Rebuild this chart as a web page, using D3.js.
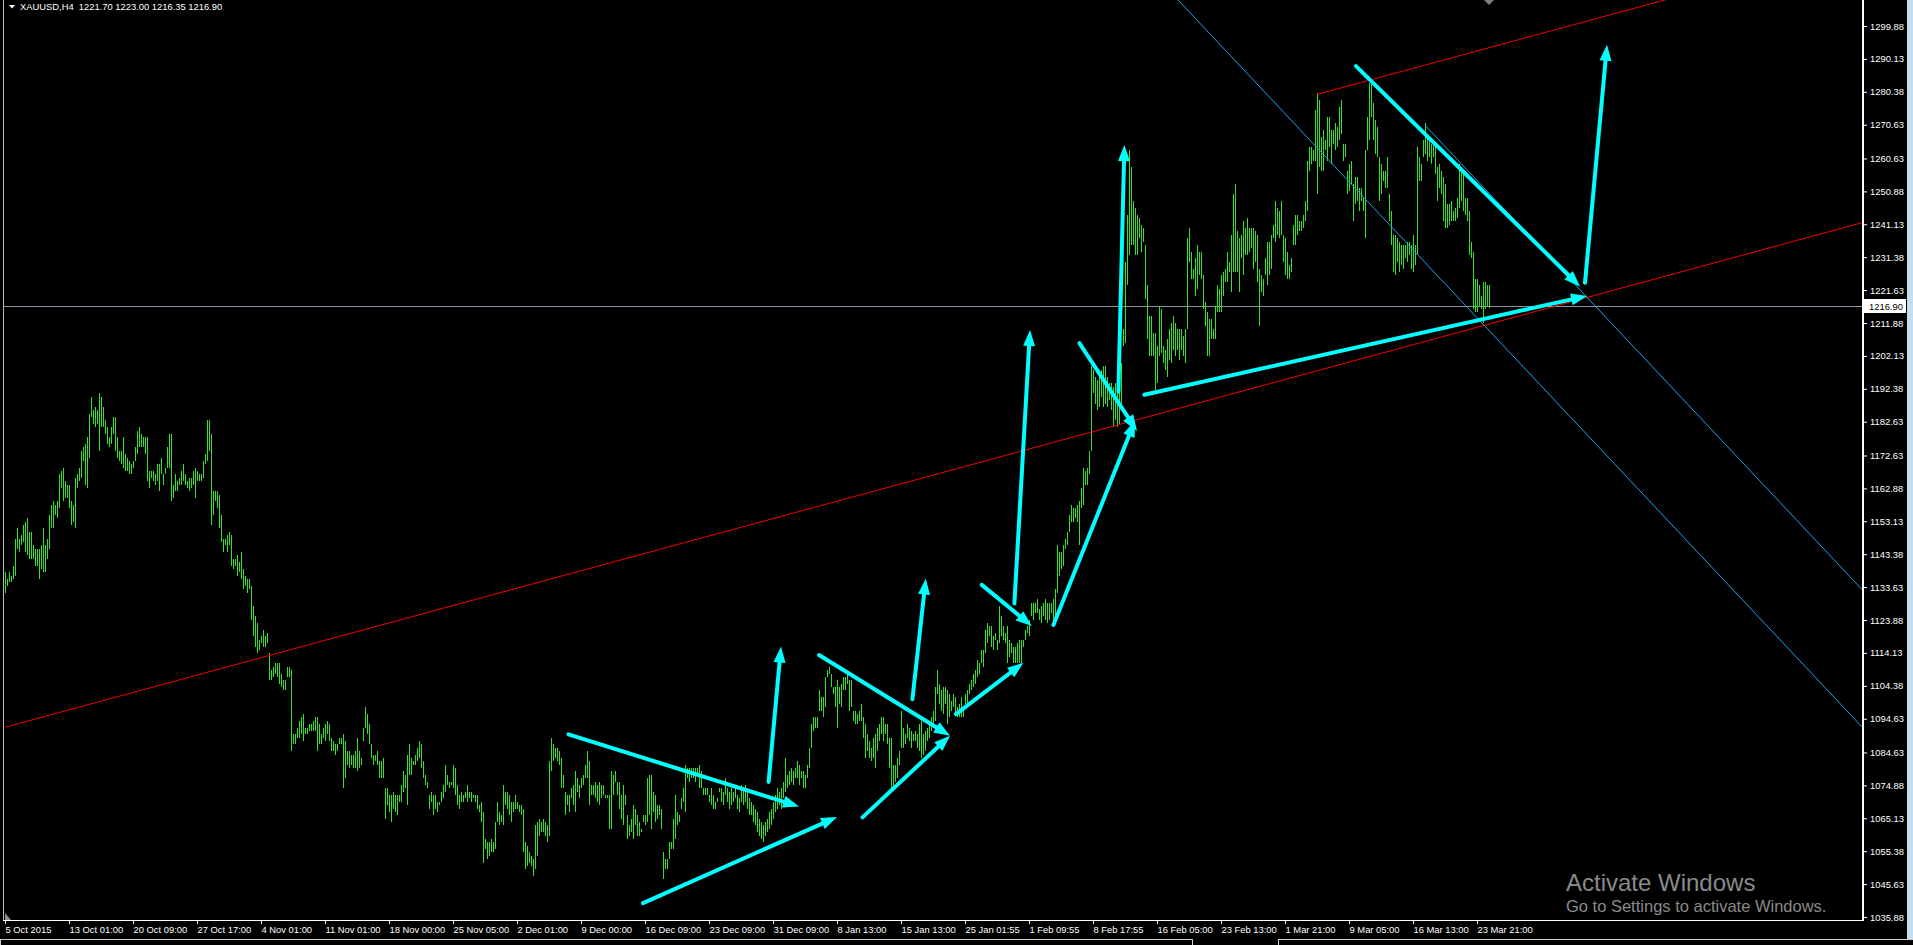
<!DOCTYPE html>
<html><head><meta charset="utf-8">
<script src="https://cdn.jsdelivr.net/npm/d3@7"></script>
<style>
html,body{margin:0;padding:0;background:#000;overflow:hidden}
svg{display:block}
text{font-family:'Liberation Sans',Arial,sans-serif}
</style></head><body>
<svg id="c" width="1913" height="945"></svg>
<script>
// ---- data ----
const symbol = "XAUUSD,H4";
const lastQuote = [1221.70, 1223.00, 1216.35, 1216.90]; // O H L C
const highs = [
1138,1136,1138,1137,1140,1148,1151,1148,1149,1152,
1153,1154,1150,1150,1146,1145,1145,1145,1146,1151,
1146,1148,1155,1158,1159,1158,1159,1167,1168,1169,
1165,1164,1164,1159,1158,1166,1167,1169,1174,1175,
1176,1178,1185,1190,1186,1187,1186,1191,1190,1187,
1183,1181,1178,1181,1184,1184,1178,1174,1174,1178,
1173,1172,1171,1170,1171,1175,1180,1181,1179,1178,
1178,1178,1168,1168,1168,1167,1170,1170,1172,1167,
1169,1175,1179,1179,1164,1167,1165,1166,1168,1170,
1167,1165,1166,1166,1168,1169,1168,1167,1167,1171,
1173,1183,1183,1179,1162,1162,1162,1161,1155,1148,
1148,1149,1150,1149,1142,1142,1143,1141,1144,1139,
1137,1136,1136,1134,1128,1125,1123,1118,1119,1121,
1119,1120,1114,1109,1110,1111,1111,1111,1108,1106,
1106,1110,1110,1109,1090,1090,1092,1094,1095,1096,
1092,1092,1093,1093,1094,1095,1095,1093,1090,1092,
1093,1094,1093,1089,1088,1087,1087,1089,1089,1090,
1088,1085,1085,1084,1084,1085,1089,1085,1083,1092,
1098,1096,1093,1087,1084,1084,1085,1082,1082,1083,
1074,1074,1072,1072,1073,1072,1072,1072,1075,1079,
1078,1084,1087,1083,1082,1084,1086,1088,1087,1082,
1078,1076,1072,1073,1072,1072,1070,1070,1073,1075,
1081,1078,1076,1076,1081,1080,1075,1072,1073,1072,
1073,1075,1073,1073,1072,1072,1072,1069,1070,1067,
1059,1058,1058,1059,1058,1064,1070,1067,1066,1075,
1073,1073,1072,1070,1070,1072,1070,1069,1069,1068,
1058,1057,1055,1054,1053,1063,1064,1065,1064,1065,
1064,1063,1082,1089,1087,1086,1086,1085,1083,1078,
1073,1072,1072,1074,1075,1079,1077,1075,1077,1078,
1081,1085,1082,1075,1075,1076,1075,1076,1075,1075,
1072,1072,1072,1079,1078,1079,1076,1076,1072,1075,
1072,1066,1063,1065,1069,1068,1066,1064,1062,1066,
1066,1077,1078,1078,1073,1072,1069,1069,1068,1055,
1053,1053,1058,1058,1065,1072,1067,1066,1071,1074,
1081,1080,1080,1080,1080,1080,1080,1081,1079,1074,
1074,1074,1072,1074,1072,1070,1071,1074,1074,1073,
1077,1074,1073,1074,1073,1074,1072,1071,1075,1074,
1075,1073,1071,1070,1069,1068,1067,1065,1064,1063,
1064,1065,1067,1068,1070,1072,1074,1073,1074,1076,
1083,1078,1079,1080,1079,1080,1082,1081,1079,1079,
1078,1081,1086,1093,1095,1095,1095,1103,1101,1101,
1107,1109,1110,1108,1104,1104,1106,1104,1105,1107,
1107,1108,1106,1106,1097,1097,1096,1097,1099,1095,
1093,1090,1088,1086,1089,1090,1092,1093,1095,1095,
1093,1093,1089,1089,1081,1081,1083,1085,1097,1092,
1090,1093,1092,1091,1090,1091,1090,1093,1094,1090,
1091,1092,1094,1095,1097,1104,1109,1105,1103,1104,
1104,1103,1102,1100,1102,1101,1098,1099,1101,1097,
1102,1103,1105,1106,1108,1109,1112,1111,1115,1115,
1121,1123,1122,1122,1119,1120,1118,1128,1125,1122,
1120,1122,1118,1117,1116,1116,1117,1118,1118,1118,
1121,1122,1124,1129,1129,1129,1130,1127,1128,1129,
1130,1129,1129,1129,1130,1133,1146,1144,1144,1146,
1148,1150,1155,1158,1157,1157,1158,1159,1163,1169,
1168,1169,1174,1199,1198,1196,1195,1196,1198,1199,
1199,1196,1194,1194,1193,1194,1193,1194,1200,1210,
1230,1244,1263,1258,1248,1246,1244,1243,1241,1240,
1235,1223,1214,1214,1209,1209,1205,1217,1216,1205,
1204,1207,1210,1212,1214,1212,1210,1210,1210,1208,
1210,1237,1240,1233,1228,1231,1235,1233,1233,1226,
1218,1215,1213,1213,1210,1217,1223,1222,1226,1227,
1228,1233,1230,1238,1250,1253,1239,1237,1238,1242,
1240,1243,1240,1240,1240,1239,1238,1228,1226,1225,
1231,1236,1236,1238,1241,1248,1246,1245,1248,1238,
1237,1233,1229,1231,1241,1244,1244,1242,1242,1244,
1248,1260,1264,1264,1263,1275,1280,1278,1267,1269,
1266,1273,1273,1269,1269,1271,1270,1276,1278,1265,
1265,1257,1259,1260,1253,1255,1255,1252,1252,1249,
1263,1273,1283,1283,1277,1272,1270,1261,1259,1257,
1257,1261,1250,1245,1238,1238,1237,1236,1235,1235,
1235,1236,1236,1235,1238,1235,1264,1261,1259,1266,
1271,1267,1266,1265,1265,1264,1258,1259,1257,1255,
1253,1247,1247,1248,1245,1246,1249,1259,1258,1256,
1249,1249,1245,1236,1233,1225,1225,1223,1220,1224,
1224,1223,1223
];
const lows = [
1132,1134,1135,1135,1136,1137,1145,1144,1146,1147,
1144,1143,1142,1142,1142,1140,1140,1136,1139,1138,
1138,1142,1145,1151,1151,1155,1154,1157,1163,1159,
1160,1160,1157,1152,1153,1151,1163,1165,1166,1171,
1164,1163,1172,1184,1182,1181,1182,1174,1181,1181,
1179,1176,1175,1176,1179,1174,1172,1171,1170,1169,
1168,1168,1167,1167,1169,1171,1173,1175,1175,1175,
1173,1165,1163,1166,1165,1164,1165,1162,1167,1164,
1167,1169,1169,1159,1160,1162,1162,1164,1164,1165,
1164,1163,1162,1163,1164,1160,1165,1165,1165,1166,
1170,1171,1174,1152,1155,1159,1157,1151,1147,1144,
1146,1144,1146,1140,1139,1140,1137,1138,1136,1133,
1134,1132,1133,1124,1119,1116,1114,1115,1117,1116,
1116,1117,1106,1106,1107,1108,1107,1105,1104,1103,
1103,1107,1107,1085,1087,1087,1089,1089,1090,1088,
1090,1090,1091,1091,1091,1091,1085,1087,1087,1089,
1088,1090,1088,1085,1085,1084,1085,1087,1087,1074,
1077,1081,1080,1081,1080,1080,1079,1080,1081,1088,
1092,1090,1087,1083,1081,1082,1081,1077,1077,1077,
1065,1069,1067,1064,1068,1067,1066,1070,1070,1073,
1074,1069,1078,1078,1081,1081,1082,1083,1080,1077,
1075,1074,1068,1070,1066,1068,1067,1069,1070,1071,
1073,1075,1074,1075,1074,1072,1069,1068,1070,1070,
1071,1070,1071,1070,1071,1070,1068,1067,1064,1052,
1056,1053,1054,1055,1055,1056,1064,1063,1064,1063,
1069,1068,1066,1064,1067,1068,1068,1067,1066,1055,
1050,1051,1052,1051,1048,1050,1054,1060,1061,1061,
1060,1058,1060,1079,1082,1083,1082,1081,1074,1074,
1066,1069,1067,1071,1069,1067,1073,1071,1074,1075,
1077,1077,1069,1072,1072,1071,1070,1069,1071,1072,
1071,1071,1062,1062,1072,1076,1072,1068,1065,1063,
1069,1059,1060,1061,1059,1063,1060,1060,1061,1064,
1063,1064,1066,1062,1067,1064,1065,1066,1062,1047,
1050,1050,1053,1056,1056,1059,1063,1064,1068,1070,
1067,1077,1076,1077,1077,1076,1078,1074,1074,1072,
1072,1072,1070,1069,1068,1068,1070,1073,1070,1069,
1072,1070,1068,1069,1070,1071,1068,1067,1070,1069,
1070,1068,1066,1066,1064,1063,1061,1060,1059,1058,
1060,1061,1062,1063,1065,1067,1068,1069,1068,1071,
1073,1074,1075,1076,1075,1077,1077,1075,1077,1074,
1074,1077,1080,1086,1091,1092,1092,1097,1097,1095,
1098,1107,1108,1104,1102,1098,1092,1099,1098,1103,
1103,1105,1097,1098,1094,1093,1093,1094,1094,1089,
1083,1085,1083,1082,1083,1080,1085,1088,1090,1088,
1090,1087,1080,1073,1074,1076,1077,1081,1086,1086,
1087,1089,1088,1086,1088,1088,1086,1085,1083,1084,
1085,1088,1089,1091,1092,1094,1102,1099,1097,1096,
1099,1093,1095,1097,1098,1096,1095,1095,1095,1095,
1099,1099,1102,1103,1104,1105,1107,1108,1111,1110,
1114,1117,1119,1116,1115,1118,1115,1117,1119,1118,
1117,1111,1113,1114,1111,1111,1111,1111,1111,1116,
1118,1120,1119,1125,1124,1126,1126,1124,1123,1125,
1124,1123,1124,1126,1122,1125,1132,1137,1139,1140,
1145,1146,1150,1153,1153,1154,1153,1146,1157,1158,
1164,1164,1167,1174,1191,1188,1186,1187,1190,1187,
1188,1187,1189,1186,1181,1183,1181,1182,1188,1205,
1206,1223,1232,1235,1235,1232,1232,1237,1233,1236,
1219,1207,1202,1202,1202,1192,1194,1202,1203,1200,
1198,1196,1201,1200,1204,1202,1204,1201,1204,1202,
1200,1210,1230,1225,1225,1220,1222,1226,1225,1216,
1211,1202,1202,1207,1207,1207,1215,1215,1215,1220,
1224,1224,1227,1221,1227,1227,1227,1221,1231,1226,
1232,1232,1233,1234,1228,1230,1224,1211,1221,1220,
1226,1223,1226,1228,1237,1236,1238,1237,1238,1230,
1226,1225,1225,1227,1235,1235,1238,1239,1239,1240,
1242,1245,1257,1259,1260,1260,1250,1258,1257,1257,
1263,1260,1264,1259,1265,1263,1264,1266,1268,1260,
1261,1250,1251,1253,1242,1247,1248,1245,1248,1245,
1237,1263,1266,1273,1266,1262,1261,1248,1250,1254,
1252,1252,1242,1235,1227,1226,1230,1227,1229,1228,
1231,1230,1232,1228,1227,1229,1232,1254,1254,1261,
1262,1260,1261,1259,1261,1256,1248,1252,1250,1242,
1240,1240,1241,1242,1242,1242,1243,1246,1248,1245,
1244,1242,1232,1231,1216,1215,1215,1217,1216,1212,
1216,1217,1216.35
];
const timeLabels = ["5 Oct 2015","13 Oct 01:00","20 Oct 09:00","27 Oct 17:00","4 Nov 01:00","11 Nov 01:00","18 Nov 00:00","25 Nov 05:00","2 Dec 01:00","9 Dec 00:00","16 Dec 09:00","23 Dec 09:00","31 Dec 09:00","8 Jan 13:00","15 Jan 13:00","25 Jan 01:55","1 Feb 09:55","8 Feb 17:55","16 Feb 05:00","23 Feb 13:00","1 Mar 21:00","9 Mar 05:00","16 Mar 13:00","23 Mar 21:00"];
const barsPerLabel = 32;
const priceTicks = [1299.88,1290.13,1280.38,1270.63,1260.63,1250.88,1241.13,1231.38,1221.63,1211.88,1202.13,1192.38,1182.63,1172.63,1162.88,1153.13,1143.38,1133.63,1123.88,1114.13,1104.38,1094.63,1084.63,1074.88,1065.13,1055.38,1045.63,1035.88];
// trend lines: [barIndex, price] anchor pairs
const redChannelBase = [[0,1092.1],[900,1237.0]];
const redChannelTopStart = [656,1279.6];
const blueLineA = [[586.5,1307.6],[929,1091.9]];
const blueLineB = [[710,1270.5],[929,1132.6]];
// cyan arrows: [startBar, startPrice, tipBar, tipPrice]
const arrows = [
 [281.75,1090.0,397,1068.6],
 [319,1040.0,416,1065.5],
 [381.8,1075.9,388,1116.0],
 [407,1113.5,472.5,1089.6],
 [428.75,1065.4,472.5,1089.6],
 [453.7,1100.4,460.4,1136.2],
 [475.5,1096.0,509.2,1111.2],
 [488.4,1134.3,513.4,1122.1],
 [504.7,1128.8,512.5,1209.8],
 [524.2,1122.4,565,1182.9],
 [537.2,1205.9,566,1179.9],
 [556.7,1191.5,559.7,1264.6],
 [569.7,1190.6,791,1219.9],
 [675.5,1288.0,787.5,1222.7],
 [790,1223.8,801,1294.3]
];

// ---- drawing ----
const W = 1913, H = 945;
const svg = d3.select("#c");
svg.append("rect").attr("width",W).attr("height",H).attr("fill","#000");

const x = d3.scaleLinear().domain([0, 929]).range([5, 1863]);
const y = d3.scaleLinear().domain([1035.88, 1299.88]).range([917, 26]);

svg.append("clipPath").attr("id","plot").append("rect")
  .attr("x",4).attr("y",0).attr("width",1859).attr("height",920);
const plot = svg.append("g").attr("clip-path","url(#plot)");

// bid line
const bid = lastQuote[3];
plot.append("line").attr("x1",4).attr("x2",1863)
  .attr("y1",Math.round(y(bid))+0.5).attr("y2",Math.round(y(bid))+0.5)
  .attr("stroke","#8a94a6").attr("stroke-width",1).attr("shape-rendering","crispEdges");

// bars
const n = Math.min(highs.length, lows.length);
let dpath = "";
for (let i=0;i<n;i++){
  const xx = Math.round(x(i))+0.5;
  let y1 = Math.round(y(highs[i])), y2 = Math.round(y(lows[i]));
  if (y2 - y1 < 1) y2 = y1 + 1;
  dpath += "M"+xx+","+y1+"V"+y2;
}
plot.append("path").attr("d",dpath).attr("stroke","#2fe424").attr("stroke-width",1)
  .attr("fill","none").attr("shape-rendering","crispEdges");

// red channel
const slopeR = (redChannelBase[1][1]-redChannelBase[0][1])/(redChannelBase[1][0]-redChannelBase[0][0]);
const redAt = (i)=> redChannelBase[0][1] + slopeR*(i-redChannelBase[0][0]);
plot.append("line").attr("x1",x(0)).attr("y1",y(redAt(0))).attr("x2",x(929)).attr("y2",y(redAt(929)))
  .attr("stroke","#f00000").attr("stroke-width",1);
const topEnd = redChannelTopStart[1] + slopeR*(929-redChannelTopStart[0]);
plot.append("line").attr("x1",x(redChannelTopStart[0])).attr("y1",y(redChannelTopStart[1]))
  .attr("x2",x(929)).attr("y2",y(topEnd)).attr("stroke","#f00000").attr("stroke-width",1);

// blue lines
const slopeB = (blueLineA[1][1]-blueLineA[0][1])/(blueLineA[1][0]-blueLineA[0][0]);
const bA0 = 560, bA0p = blueLineA[0][1] + slopeB*(bA0-blueLineA[0][0]);
plot.append("line").attr("x1",x(bA0)).attr("y1",y(bA0p)).attr("x2",x(blueLineA[1][0])).attr("y2",y(blueLineA[1][1]))
  .attr("stroke","#1ea0ec").attr("stroke-width",1);
plot.append("line").attr("x1",x(blueLineB[0][0])).attr("y1",y(blueLineB[0][1])).attr("x2",x(blueLineB[1][0])).attr("y2",y(blueLineB[1][1]))
  .attr("stroke","#1ea0ec").attr("stroke-width",1);

// cyan arrows
const ag = plot.append("g");
arrows.forEach(a=>{
  const x0=x(a[0]), y0=y(a[1]), x1=x(a[2]), y1=y(a[3]);
  const dx=x1-x0, dy=y1-y0, L=Math.hypot(dx,dy), ux=dx/L, uy=dy/L;
  const hl=16, hw=6;
  const bx=x1-ux*hl, by=y1-uy*hl;
  ag.append("line").attr("x1",x0).attr("y1",y0).attr("x2",x1-ux*10).attr("y2",y1-uy*10)
    .attr("stroke","#00ffff").attr("stroke-width",4).attr("stroke-linecap","round");
  ag.append("polygon").attr("points",[[x1,y1],[bx-uy*hw,by+ux*hw],[bx+uy*hw,by-ux*hw]].map(p=>p.join(",")).join(" "))
    .attr("fill","#00ffff");
});

// borders
svg.append("line").attr("x1",3.5).attr("x2",3.5).attr("y1",0).attr("y2",920).attr("stroke","#b8b8b8").attr("stroke-width",1);
svg.append("line").attr("x1",3).attr("x2",1864).attr("y1",920.5).attr("y2",920.5).attr("stroke","#fff").attr("stroke-width",1);
svg.append("line").attr("x1",1863).attr("x2",1863).attr("y1",0).attr("y2",921).attr("stroke","#fff").attr("stroke-width",2);

// price axis
const yAxis = d3.axisRight(y).tickValues(priceTicks).tickSize(3).tickPadding(3).tickFormat(d=>d.toFixed(2));
const gy = svg.append("g").attr("transform","translate(1864,0)").call(yAxis);
gy.select(".domain").remove();
gy.selectAll("line").attr("stroke","#fff");
gy.selectAll("text").attr("fill","#fff").attr("font-size","9.4px").attr("font-family","'Liberation Sans',Arial,sans-serif");

// current price label
const by0 = Math.round(y(bid));
svg.append("rect").attr("x",1864).attr("y",by0-7).attr("width",42).attr("height",14).attr("fill","#fff");
svg.append("text").attr("x",1869).attr("y",by0+3.5).attr("fill","#000").attr("font-size","9.4px").text(bid.toFixed(2));

// time axis
const idx = timeLabels.map((d,i)=>i*barsPerLabel);
const xAxis = d3.axisBottom(x).tickValues(idx).tickSize(4).tickFormat((d,i)=>timeLabels[i]);
const gx = svg.append("g").attr("transform","translate(0,920)").call(xAxis);
gx.select(".domain").remove();
gx.selectAll("line").attr("stroke","#fff");
gx.selectAll("text").attr("fill","#fff").attr("font-size","9.4px").attr("text-anchor","start")
  .attr("x",0).attr("y",13).attr("dy",0).attr("font-family","'Liberation Sans',Arial,sans-serif");

// header
svg.append("polygon").attr("points","9,5 15,5 12,8.5").attr("fill","#fff");
svg.append("text").attr("x",20).attr("y",10).attr("fill","#fff").attr("font-size","9.4px")
  .attr("xml:space","preserve")
  .text(symbol+"  "+lastQuote.map(v=>v.toFixed(2)).join(" "));

// shift marker
svg.append("polygon").attr("points","1484,0 1494,0 1489,5").attr("fill","#808080");
svg.append("polygon").attr("points","5,913 5,920 11,920").attr("fill","#909090");

// window frame bits
svg.append("rect").attr("x",1907).attr("y",0).attr("width",6).attr("height",940).attr("fill","#c4dcf4");
svg.append("rect").attr("x",0.5).attr("y",939.5).attr("width",1192).attr("height",10).attr("fill","none").attr("stroke","#d0d0d0");
svg.append("rect").attr("x",1278.5).attr("y",939.5).attr("width",640).attr("height",10).attr("fill","none").attr("stroke","#d0d0d0");

// watermark
svg.append("text").attr("x",1566).attr("y",891).attr("fill","#8a8a8a").attr("font-size","24px").text("Activate Windows");
svg.append("text").attr("x",1566).attr("y",912).attr("fill","#8a8a8a").attr("font-size","16.5px").text("Go to Settings to activate Windows.");
</script>
</body></html>
